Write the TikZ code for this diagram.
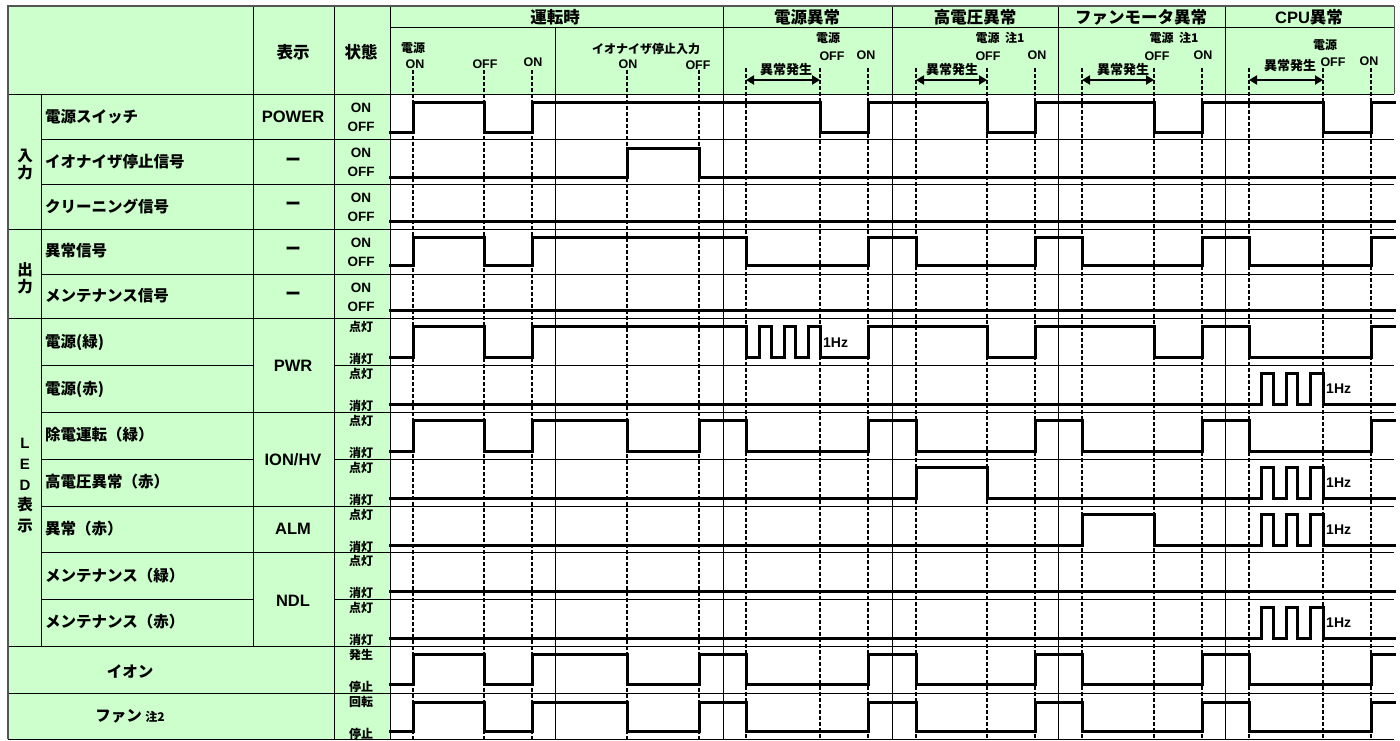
\documentclass[tikz,border=0pt]{standalone}
\usepackage{fontspec}
\setmainfont{Liberation Sans}
\newfontfamily\jp{Noto Sans CJK JP}
\usetikzlibrary{arrows.meta}
\definecolor{hdr}{HTML}{CCFFCC}
\definecolor{bord}{HTML}{555555}
\begin{document}
\begin{tikzpicture}[x=1pt,y=-1pt,
  grid/.style={line width=0.9pt,black},
  sigline/.style={line width=3pt,line join=miter,line cap=rect},
  evt/.style={line width=1.2pt,dash pattern=on 4pt off 2pt},
  jpl/.style={font=\jp\bfseries\fontsize{15.5}{17}\selectfont,anchor=west,inner sep=0pt},
  grp/.style={font=\jp\bfseries\fontsize{15.5}{17}\selectfont,inner sep=0pt},
  grpl/.style={font=\bfseries\fontsize{15}{17}\selectfont,inner sep=0pt},
  ttl/.style={font=\jp\bfseries\fontsize{16.5}{18}\selectfont,inner sep=0pt},
  dsp/.style={font=\bfseries\fontsize{16.5}{18}\selectfont,inner sep=0pt},
  st/.style={font=\bfseries\fontsize{13.5}{15}\selectfont,inner sep=0pt},
  stj/.style={font=\jp\bfseries\fontsize{12}{13}\selectfont,inner sep=0pt},
  sub/.style={font=\bfseries\fontsize{12.5}{13}\selectfont,inner sep=0pt},
  subj/.style={font=\jp\bfseries\fontsize{12}{13}\selectfont,inner sep=0pt},
  evj/.style={font=\jp\bfseries\fontsize{13}{14}\selectfont,inner sep=0pt},
  hz/.style={font=\bfseries\fontsize{14}{15}\selectfont,anchor=west,inner sep=0pt},
  span/.style={line width=2.4pt,{Triangle[length=8pt,width=9pt]}-{Triangle[length=8pt,width=9pt]}},
]
\useasboundingbox (0,0) rectangle (1400,740);
% backgrounds
\fill[white] (0,0) rectangle (1400,740);
\fill[hdr] (8,6) rectangle (390,739);
\fill[hdr] (388,6) rectangle (1394,94);
% horizontal grid
\draw[grid] (390,27) -- (1394,27);
\draw[grid] (8,94) -- (1394,94);
\foreach \y in {139,184,274,412,506,552} \draw[grid] (41,\y) -- (1394,\y);
\foreach \y in {229,318,646,693} \draw[grid] (8,\y) -- (1394,\y);
\foreach \y in {365,459,599} {\draw[grid] (41,\y) -- (253,\y); \draw[grid] (334,\y) -- (1394,\y);}
\draw[grid] (8,739) -- (1394,739);
% vertical grid
\draw[grid] (41,94) -- (41,646);
\draw[grid] (253,6) -- (253,646);
\draw[grid] (334,6) -- (334,739);
\draw[grid] (390,6) -- (390,739);
\draw[grid] (555,27) -- (555,739);
\foreach \x in {723,892,1058,1225} \draw[grid] (\x,6) -- (\x,739);
\draw[grid,bord] (1394,6) -- (1394,94);
% outer border
\draw[line width=2pt,bord] (8,739) -- (8,6) -- (1394,6);
% event dashed lines
\foreach \x in {413,484,532,627,699} \draw[evt] (\x,70) -- (\x,739);
\foreach \x in {746,820,868,916,987,1035,1082,1154,1202,1249,1323,1371} \draw[evt] (\x,68) -- (\x,739);
% header titles
\node[ttl] (h0) at (555,17) {運転時};
\node[ttl] (h1) at (807,17) {電源異常};
\node[ttl] (h2) at (975,17) {高電圧異常};
\node[ttl] (h3) at (1141,17) {ファンモータ異常};
\node[dsp] (h4) at (1309,17) {CPU{\jp 異常}};
\node[ttl] (hd) at (293,52) {表示};
\node[ttl] (hs) at (361,52) {状態};
% sub header: 運転時
\node[subj] (s1) at (413,48) {電源};
\node[sub] (s2) at (415,64) {ON};
\node[sub] (s3) at (485,64) {OFF};
\node[sub] (s4) at (533,62) {ON};
\node[subj] (s5) at (646,49) {イオナイザ停止入力};
\node[sub] (s6) at (628,64) {ON};
\node[sub] (s7) at (698,65) {OFF};
% 電源異常
\node[subj] (p1) at (828,38) {電源};
\node[sub] (p2) at (832,56) {OFF};
\node[sub] (p3) at (866,55) {ON};
\node[evj] (p4) at (786,70) {異常発生};
\coordinate (pa) at (746,80); \coordinate (pb) at (820,80);
\draw[span] (pa) -- (pb);
% 高電圧異常
\node[subj] (q1) at (1000,38) {電源\ \ 注1};
\node[sub] (q2) at (988,56) {OFF};
\node[sub] (q3) at (1037,55) {ON};
\node[evj] (q4) at (952,70) {異常発生};
\coordinate (qa) at (916,80); \coordinate (qb) at (987,80);
\draw[span] (qa) -- (qb);
% ファンモータ異常
\node[subj] (r1) at (1174,38) {電源\ \ 注1};
\node[sub] (r2) at (1157,56) {OFF};
\node[sub] (r3) at (1203,55) {ON};
\node[evj] (r4) at (1123,70) {異常発生};
\coordinate (ra) at (1082,80); \coordinate (rb) at (1154,80);
\draw[span] (ra) -- (rb);
% CPU異常
\node[subj] (c1) at (1325,45) {電源};
\node[sub] (c2) at (1333,62) {OFF};
\node[sub] (c3) at (1369,61) {ON};
\node[evj] (c4) at (1290,66) {異常発生};
\coordinate (ca) at (1249,80); \coordinate (cb) at (1323,80);
\draw[span] (ca) -- (cb);
% group labels
\node[grp] (g1) at (25,156) {入};
\node[grp] (g2) at (25,173) {力};
\node[grp] (g3) at (25,270) {出};
\node[grp] (g4) at (25,287) {力};
\node[grpl] (g5) at (25,443) {L};
\node[grpl] (g6) at (25,464) {E};
\node[grpl] (g7) at (25,485) {D};
\node[grp] (g8) at (25,505) {表};
\node[grp] (g9) at (25,526) {示};
% row names
\node[jpl] (n1) at (45,117) {電源スイッチ};
\node[jpl] (n2) at (45,162) {イオナイザ停止信号};
\node[jpl] (n3) at (45,206) {クリーニング信号};
\node[jpl] (n4) at (45,251) {異常信号};
\node[jpl] (n5) at (45,296) {メンテナンス信号};
\node[jpl] (n6) at (45,342) {電源(緑)};
\node[jpl] (n7) at (45,389) {電源(赤)};
\node[jpl] (n8) at (45,435) {除電運転（緑）};
\node[jpl] (n9) at (45,482) {高電圧異常（赤）};
\node[jpl] (n10) at (45,529) {異常（赤）};
\node[jpl] (n11) at (45,576) {メンテナンス（緑）};
\node[jpl] (n12) at (45,622) {メンテナンス（赤）};
\node[grp] (n13) at (130,671) {イオン};
\node[grp] (n14) at (130,716) {ファン\ {\fontsize{12}{13}\selectfont 注2}};
% display column
\node[dsp] (d1) at (293,117) {POWER};
\foreach \y/\nm in {162/d2,206/d3,251/d4,296/d5} \node[grp] (\nm) at (293,\y) {ー};
\node[dsp] (d6) at (293,366) {PWR};
\node[dsp] (d7) at (293,460) {ION/HV};
\node[dsp] (d8) at (293,529) {ALM};
\node[dsp] (d9) at (293,601) {NDL};
% state column
\foreach \t/\i in {94/a,139/b,184/c,229/d,274/e} {
  \node[st] (on\i) at (361,\t+14) {ON};
  \node[st] (off\i) at (361,\t+33) {OFF};
}
\foreach \t/\i in {318/a,365/b,412/c,459/d,506/e,552/f,599/g} {
  \node[stj] (lt\i) at (361,\t+9) {点灯};
  \node[stj] (ls\i) at (361,\t+40.5) {消灯};
}
\node[stj] (io1) at (361,655) {発生};
\node[stj] (io2) at (361,687) {停止};
\node[stj] (fa1) at (361,702) {回転};
\node[stj] (fa2) at (361,734) {停止};
% signals
\draw[sigline] (390,132) -| (413,102.5) -| (484,132) -| (532,102.5) -| (820,132) -| (868,102.5) -| (987,132) -| (1035,102.5) -| (1154,132) -| (1202,102.5) -| (1323,132) -| (1371,102.5) -- (1394,102.5);
\draw[sigline] (390,177) -| (627,148.5) -| (699,177) -- (1394,177);
\draw[sigline] (390,221) -- (1394,221);
\draw[sigline] (390,265.5) -| (413,237.5) -| (484,265.5) -| (532,237.5) -| (746,265.5) -| (868,237.5) -| (916,265.5) -| (1035,237.5) -| (1082,265.5) -| (1202,237.5) -| (1249,265.5) -| (1371,237.5) -- (1394,237.5);
\draw[sigline] (390,310) -- (1394,310);
\draw[sigline] (390,357) -| (413,326) -| (484,357) -| (532,326) -| (746,357) -| (759,326) -| (771,357) -| (784,326) -| (795,357) -| (808,326) -| (820,357) -| (868,326) -| (987,357) -| (1035,326) -| (1154,357) -| (1202,326) -| (1249,357) -| (1371,326) -- (1394,326);
\node[hz] (z1) at (823,343) {1Hz};
\draw[sigline] (390,404) -| (1261,373) -| (1273,404) -| (1286,373) -| (1297,404) -| (1310,373) -| (1323,404) -- (1394,404);
\node[hz] (z2) at (1326,389) {1Hz};
\draw[sigline] (390,451) -| (413,420) -| (484,451) -| (532,420) -| (627,451) -| (699,420) -| (746,451) -| (868,420) -| (916,451) -| (1035,420) -| (1082,451) -| (1202,420) -| (1249,451) -| (1371,420) -- (1394,420);
\draw[sigline] (390,498) -| (916,467) -| (987,498) -| (1261,467) -| (1273,498) -| (1286,467) -| (1297,498) -| (1310,467) -| (1323,498) -- (1394,498);
\node[hz] (z3) at (1326,483) {1Hz};
\draw[sigline] (390,545) -| (1082,514) -| (1154,545) -| (1261,514) -| (1273,545) -| (1286,514) -| (1297,545) -| (1310,514) -| (1323,545) -- (1394,545);
\node[hz] (z4) at (1326,530) {1Hz};
\draw[sigline] (390,591) -- (1394,591);
\draw[sigline] (390,638) -| (1261,607) -| (1273,638) -| (1286,607) -| (1297,638) -| (1310,607) -| (1323,638) -- (1394,638);
\node[hz] (z5) at (1326,623) {1Hz};
\draw[sigline] (390,684) -| (413,654) -| (484,684) -| (532,654) -| (627,684) -| (699,654) -| (746,684) -| (868,654) -| (916,684) -| (1035,654) -| (1082,684) -| (1202,654) -| (1249,684) -| (1371,654) -- (1394,654);
\draw[sigline] (390,731) -| (413,702) -| (484,731) -| (532,702) -| (627,731) -| (699,702) -| (746,731) -| (868,702) -| (916,731) -| (1035,702) -| (1082,731) -| (1202,702) -| (1249,731) -| (1371,702) -- (1394,702);
\end{tikzpicture}
\end{document}
